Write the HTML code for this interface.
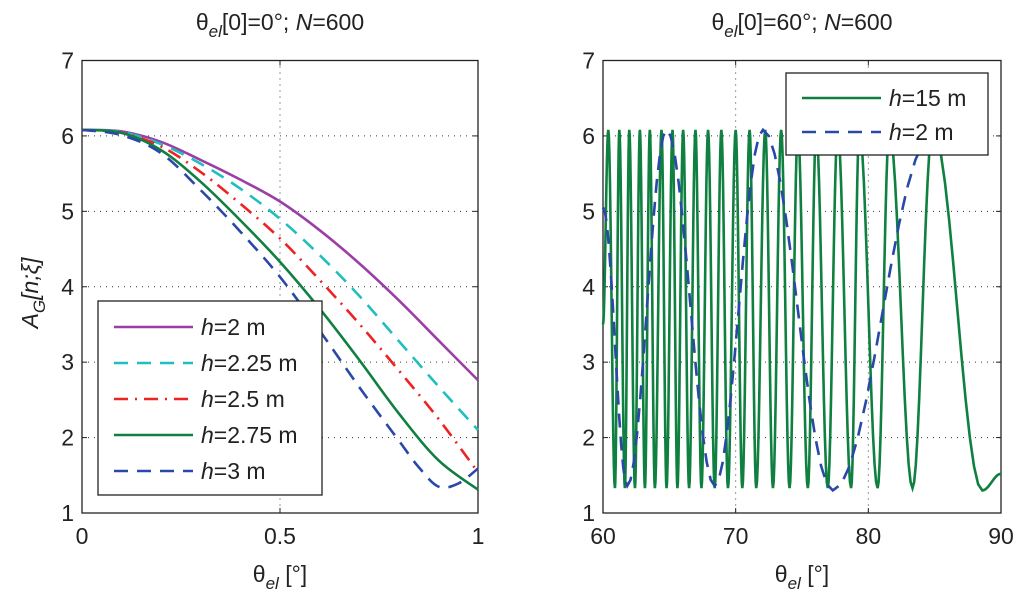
<!DOCTYPE html>
<html><head><meta charset="utf-8">
<style>
html,body{margin:0;padding:0;background:#fff;}
svg{display:block;font-family:"Liberation Sans",sans-serif;}
</style></head>
<body>
<svg id="chart" width="1024" height="599" viewBox="0 0 1024 599">
<g id="left"></g>
<g id="right"></g>
</svg>
<script>
// ---- data ----
const leftX = [0,0.1,0.2,0.3,0.4,0.5,0.6,0.7,0.8,0.9,1.0];
const h200 = [6.08,6.06,5.92,5.68,5.42,5.13,4.75,4.31,3.82,3.29,2.76];
const h225 = [6.08,6.05,5.89,5.63,5.30,4.90,4.42,3.88,3.28,2.68,2.10];
const h250 = [6.08,6.04,5.86,5.52,5.10,4.64,4.09,3.51,2.89,2.25,1.54];
const h275 = [6.08,6.04,5.81,5.39,4.88,4.33,3.71,3.03,2.32,1.70,1.31];
const h300X = [0,0.1,0.2,0.3,0.4,0.5,0.6,0.7,0.8,0.85,0.9,0.95,1.0];
const h300 = [6.08,6.01,5.77,5.28,4.73,4.13,3.42,2.67,1.96,1.61,1.35,1.39,1.59];
const leftXTicks = [0,0.5,1];
const leftXTickLabels = ["0","0.5","1"];
const yTicks = [1,2,3,4,5,6,7];
// right panel: extrema of oscillating curves
const g15X = [60,60.40,60.90,61.23,61.65,61.98,62.41,62.78,63.16,63.53,63.91,64.41,64.79,65.24,65.61,66.04,66.49,66.97,67.42,67.92,68.42,68.92,69.42,70.00,70.50,71.05,71.55,72.23,72.81,73.43,74.06,74.69,75.44,76.07,76.94,77.69,78.70,79.32,80.70,81.58,83.33,84.84,88.59,90];
const g15Y = [3.5,6.08,1.33,6.08,1.33,6.08,1.33,6.08,1.33,6.08,1.33,6.08,1.33,6.08,1.33,6.08,1.33,6.08,1.33,6.08,1.33,6.08,1.33,6.08,1.33,6.08,1.33,6.08,1.33,6.08,1.33,6.08,1.33,6.08,1.33,6.08,1.33,6.08,1.33,6.08,1.33,6.08,1.30,1.52];
const b2X = [60,61.83,64.79,68.42,72.06,77.32,84.8];
const b2Y = [5.05,1.36,6.08,1.36,6.08,1.30,6.0];
const rightXTicks = [60,70,80,90];
const rightXTickLabels = ["60","70","80","90"];

const NS="http://www.w3.org/2000/svg";
function mk(parent,tag,attrs){const e=document.createElementNS(NS,tag);for(const k in attrs)e.setAttribute(k,attrs[k]);parent.appendChild(e);return e;}

const TOP=60.5,BOT=513;
function yS(v){return BOT-(v-1)/6*(BOT-TOP);}

function smoothPath(xs,ys,sx){
  const p=xs.map((x,i)=>[sx(x),yS(ys[i])]);
  let d="M"+p[0][0].toFixed(2)+","+p[0][1].toFixed(2);
  for(let i=0;i<p.length-1;i++){
    const p0=p[Math.max(0,i-1)],p1=p[i],p2=p[i+1],p3=p[Math.min(p.length-1,i+2)];
    const c1=[p1[0]+(p2[0]-p0[0])/6,p1[1]+(p2[1]-p0[1])/6];
    const c2=[p2[0]-(p3[0]-p1[0])/6,p2[1]-(p3[1]-p1[1])/6];
    d+=" C"+c1.map(v=>v.toFixed(2)).join(",")+" "+c2.map(v=>v.toFixed(2)).join(",")+" "+p2.map(v=>v.toFixed(2)).join(",");
  }
  return d;
}
function extremaPath(xs,ys,sx){
  let d="";
  for(let i=0;i<xs.length-1;i++){
    for(let k=0;k<=12;k++){
      if(i>0&&k===0)continue;
      const t=k/12,x=xs[i]+(xs[i+1]-xs[i])*t,y=ys[i]+(ys[i+1]-ys[i])*(1-Math.cos(Math.PI*t))/2;
      d+=(d?" L":"M")+sx(x).toFixed(2)+","+yS(y).toFixed(2);
    }
  }
  return d;
}

function axes(g,L,R,xticks,xlabels,sx,title){
  xticks.forEach(t=>{const x=sx(t);if(x>L+1&&x<R-1){const l=mk(g,'line',{x1:x,x2:x,y1:TOP,y2:BOT,stroke:'#333','stroke-width':1,'stroke-dasharray':'1,5'});
  }});
  yTicks.forEach(t=>{const y=yS(t);if(y>TOP+1&&y<BOT-1){const l=mk(g,'line',{x1:L,x2:R,y1:y,y2:y,stroke:'#333','stroke-width':1,'stroke-dasharray':'1,5'});
  }});
  const fr=mk(g,'rect',{x:L,y:TOP,width:R-L,height:BOT-TOP,fill:'none',stroke:'#222','stroke-width':1.3});
  
  xticks.forEach((t,i)=>{const x=sx(t);
    mk(g,'line',{x1:x,x2:x,y1:BOT,y2:BOT-5,stroke:'#222'});mk(g,'line',{x1:x,x2:x,y1:TOP,y2:TOP+5,stroke:'#222'});
    const tx=mk(g,'text',{x:x,y:BOT+31,'font-size':23,'text-anchor':'middle',fill:'#222'});tx.textContent=xlabels[i];
    });
  yTicks.forEach(t=>{const y=yS(t);
    mk(g,'line',{x1:L,x2:L+5,y1:y,y2:y,stroke:'#222'});mk(g,'line',{x1:R,x2:R-5,y1:y,y2:y,stroke:'#222'});
    const tx=mk(g,'text',{x:L-8,y:y+8,'font-size':23,'text-anchor':'end',fill:'#222'});tx.textContent=String(t);
    });
  const cx=(L+R)/2;
  const tt=mk(g,'text',{x:cx,y:30,'font-size':23,'text-anchor':'middle',fill:'#222'});
  tt.innerHTML='θ<tspan font-size="17" font-style="italic" dy="7">el</tspan><tspan dy="-7">[0]='+title[0]+'°; </tspan><tspan font-style="italic">N</tspan>=600';
  
  const xt=mk(g,'text',{x:cx,y:582,'font-size':23,'text-anchor':'middle',fill:'#222'});
  xt.innerHTML='θ<tspan font-size="17" font-style="italic" dy="7">el</tspan><tspan dy="-7"> [°]</tspan>';
  
}

function series(g,d,color,dash,name){
  const p=mk(g,'path',{d:d,fill:'none',stroke:color,'stroke-width':2.6});
  if(dash)p.setAttribute('stroke-dasharray',dash);
  
}
function legend(g,x,y,w,rowH,items){
  const r=mk(g,'rect',{x:x,y:y,width:w,height:rowH*items.length+14,fill:'#fff',stroke:'#222','stroke-width':1.3});
  
  items.forEach((it,i)=>{const cy=y+7+rowH*(i+0.5)+1;
    const l=mk(g,'line',{x1:x+16,x2:x+95,y1:cy,y2:cy,stroke:it[1],'stroke-width':2.6});
    if(it[2])l.setAttribute('stroke-dasharray',it[2]);
    
    const t=mk(g,'text',{x:x+103,y:cy+8,'font-size':23,fill:'#222'});
    t.innerHTML='<tspan font-style="italic">h</tspan>='+it[0]+' m';
    });
}

// left panel
const gl=document.getElementById('left');
const LL=82,LR=478; const sxL=v=>LL+v*(LR-LL);
axes(gl,LL,LR,leftXTicks,leftXTickLabels,sxL,['0']);
series(gl,smoothPath(leftX,h200,sxL),'#9b3fa6',null,'line-h-2');
series(gl,smoothPath(leftX,h225,sxL),'#1fbfbf','14,9','line-h-2.25');
series(gl,smoothPath(leftX,h250,sxL),'#ee2222','14,7,2,7','line-h-2.5');
series(gl,smoothPath(leftX,h275,sxL),'#108040',null,'line-h-2.75');
series(gl,smoothPath(h300X,h300,sxL),'#2a48a8','14,9','line-h-3');
legend(gl,98,301,224,36,[['2','#9b3fa6',null],['2.25','#1fbfbf','14,9'],['2.5','#ee2222','14,7,2,7'],['2.75','#108040',null],['3','#2a48a8','14,9']]);
const yt=mk(gl,'text',{x:0,y:0,'font-size':23,'text-anchor':'middle',fill:'#222',transform:'translate(38,293) rotate(-90)'});
yt.innerHTML='<tspan font-style="italic">A</tspan><tspan font-size="17" font-style="italic" dy="7">G</tspan><tspan dy="-7" font-style="italic">[n;ξ]</tspan>';


// right panel
const gr=document.getElementById('right');
const RL=603,RR=1001; const sxR=v=>RL+(v-60)/30*(RR-RL);
axes(gr,RL,RR,rightXTicks,rightXTickLabels,sxR,['60']);
series(gr,extremaPath(g15X,g15Y,sxR),'#108040',null,'line-h-15');
series(gr,extremaPath(b2X,b2Y,sxR),'#2a48a8','14,9','line-h-2-right');
legend(gr,786,73,202,34,[['15','#108040',null],['2','#2a48a8','14,9']]);
</script>
</body></html>
